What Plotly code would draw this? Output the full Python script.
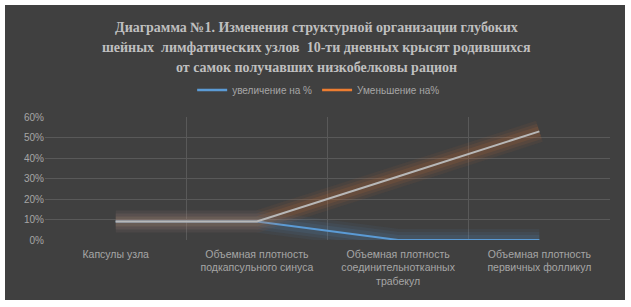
import plotly.graph_objects as go

categories = [
    "Капсулы узла",
    "Объемная плотность<br>подкапсульного синуса",
    "Объемная плотность<br>соединительнотканных<br>трабекул",
    "Объемная плотность<br>первичных фолликул",
]
increase_name = "увеличение на %"
decrease_name = "Уменьшение на%"
increase_vals = [0.09, 0.09, 0.0, 0.0]
decrease_vals = [0.09, 0.09, 0.31, 0.53]
y_ticks = [0, 0.1, 0.2, 0.3, 0.4, 0.5, 0.6]
y_tick_labels = ["0%", "10%", "20%", "30%", "40%", "50%", "60%"]

title_lines = [
    "Диаграмма №1. Изменения структурной организации глубоких",
    "шейных  лимфатических узлов  10-ти дневных крысят родившихся",
    "от самок получавших низкобелковы рацион",
]

BLUE = "#5b9bd5"
ORANGE = "#ed7d31"
DARK = "#404040"
TXT = "#a6a6a6"

fig = go.Figure()

def glow(vals, rgb):
    for w, a in [(22, 0.06), (16, 0.08), (10, 0.10)]:
        fig.add_trace(go.Scatter(x=categories, y=vals, mode="lines",
                                 line=dict(color=f"rgba({rgb},{a})", width=w),
                                 showlegend=False, hoverinfo="skip"))

glow(increase_vals, "91,155,213")
fig.add_trace(go.Scatter(x=categories, y=increase_vals, mode="lines",
                         line=dict(color=BLUE, width=2),
                         showlegend=False))
glow(decrease_vals, "237,125,49")
fig.add_trace(go.Scatter(x=categories, y=decrease_vals, mode="lines",
                         line=dict(color="#b8b8b8", width=2),
                         showlegend=False))
# legend entries
fig.add_trace(go.Scatter(x=[None], y=[None], mode="lines", name=increase_name,
                         line=dict(color=BLUE, width=2.5)))
fig.add_trace(go.Scatter(x=[None], y=[None], mode="lines", name=decrease_name,
                         line=dict(color=ORANGE, width=2.5)))

L, R, T, B = 45, 21, 117, 67
W, H = 631, 307
pw, ph = W - L - R, H - T - B
x0 = (5 - L) / pw
x1 = (625 - L) / pw
y1 = (H - B - 5) / ph
y0 = (H - B - 300) / ph

annotations = []
for i, line in enumerate(title_lines):
    yc = 27 + 20 * i
    annotations.append(dict(text=f"<b>{line}</b>", xref="paper", yref="paper",
                            x=(316.5 - L) / pw, y=(H - B - yc) / ph,
                            xanchor="center", yanchor="middle", showarrow=False,
                            font=dict(family="Liberation Serif", size=14, color="#bfbfbf")))

fig.update_layout(
    width=W, height=H,
    margin=dict(l=L, r=R, t=T, b=B, autoexpand=False),
    paper_bgcolor="white",
    plot_bgcolor=DARK,
    shapes=[dict(type="rect", xref="paper", yref="paper", x0=x0, x1=x1, y0=y0, y1=y1,
                 fillcolor=DARK, line=dict(width=0), layer="below")],
    annotations=annotations,
    legend=dict(orientation="h", x=0.505, xanchor="center", xref="container",
                y=1 - 90 / H, yanchor="middle", yref="container",
                font=dict(family="Liberation Sans", size=10, color=TXT),
                bgcolor="rgba(0,0,0,0)", itemwidth=30),
    xaxis=dict(type="category", tickson="boundaries", showgrid=True, automargin=False,
               gridcolor="#595959", gridwidth=1, ticks="", showline=False,
               zeroline=False, ticklabelstandoff=6,
               tickfont=dict(family="Liberation Sans", size=10.5, color=TXT),
               range=[-0.5, 3.5]),
    yaxis=dict(range=[0, 0.6], tickvals=y_ticks, ticktext=y_tick_labels, automargin=False,
               showgrid=True, gridcolor="#595959", gridwidth=1, zeroline=False,
               ticks="", showline=False,
               tickfont=dict(family="Liberation Sans", size=10, color=TXT)),
)

fig.write_html("out.html", config={"displayModeBar": False},
               post_script="document.body.style.margin='0';document.body.style.overflow='hidden';")
